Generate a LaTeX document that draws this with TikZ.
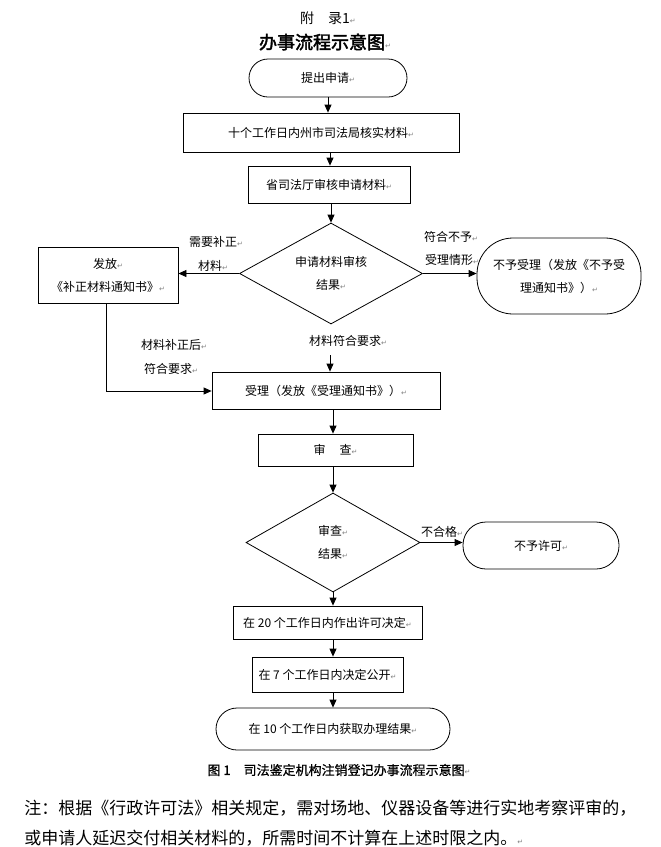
\documentclass[tikz,border=0pt]{standalone}
\usepackage{fontspec}
\setmainfont{Noto Sans CJK SC}
\newfontfamily\djv{DejaVu Sans}
\newfontfamily\titlecjk[FakeBold=2.2]{Noto Sans CJK SC}
\newfontfamily\capcjk[FakeBold=0.8]{Noto Sans CJK SC}
\usetikzlibrary{shapes.geometric,arrows.meta}
\newcommand\myfs[2][23]{\fontsize{#2}{#1}\selectfont}
\newcommand\pmk{{\djv\fontsize{7}{7}\selectfont\color{gray}\char"21B5}}
\begin{document}
\begin{tikzpicture}[x=1pt,y=-1pt,line width=0.8pt,
  every node/.style={inner sep=0pt,align=center,font=\myfs{12}},
  rect/.style={draw},
  stad/.style={draw,rounded corners=#1},
  dia/.style={draw,diamond,aspect=1.8},
  arr/.style={-{Triangle[length=8pt,width=7pt]}},
  lbl/.style={font=\myfs{12}}]
\path[use as bounding box,fill=white] (0,0) rectangle (661,847);

% titles
\node (t1) at (328,18) {\myfs{14}附\hspace{14pt}录1\pmk};
\node (t2) at (325,42) {\titlecjk\myfs{18}办事流程示意图\pmk};

% main nodes
\node[stad=19pt,minimum width=158pt,minimum height=38pt] (start) at (328,78) {提出申请\pmk};
\node[rect,minimum width=276pt,minimum height=39pt] (b1) at (321,132.5) {十个工作日内州市司法局核实材料\pmk};
\node[rect,minimum width=162pt,minimum height=37pt] (b2) at (329,184.5) {省司法厅审核申请材料\pmk};
\node[dia,minimum width=183pt,minimum height=101pt] (d1) at (331,273.5) {申请材料审核\\结果\pmk};
\node[rect,minimum width=140pt,minimum height=56pt] (lbox) at (108,275) {发放\pmk\\《补正材料通知书》\pmk};
\node[stad=36pt,minimum width=164pt,minimum height=76pt] (rstad) at (559,276) {不予受理（发放《不予受\\理通知书》）\pmk};
\node[rect,minimum width=228pt,minimum height=37pt] (accept) at (326,390.5) {受理（发放《受理通知书》）\pmk};
\node[rect,minimum width=155pt,minimum height=32pt] (review) at (335.5,450) {审\hspace{14pt}查\pmk};
\node[dia,minimum width=174pt,minimum height=99pt] (d2) at (333,542.5) {\myfs[25]{12}审查\pmk\\结果\pmk};
\node[stad=23pt,minimum width=156pt,minimum height=47pt] (deny) at (541,545.5) {不予许可\pmk};
\node[rect,minimum width=189pt,minimum height=33pt] (b20) at (327.5,622.5) {在 20 个工作日内作出许可决定\pmk};
\node[rect,minimum width=151pt,minimum height=35pt] (b7) at (327.5,674.5) {在 7 个工作日内决定公开\pmk};
\node[stad=21pt,minimum width=234pt,minimum height=42pt] (end) at (333,729) {在 10 个工作日内获取办理结果\pmk};

% labels
\node[lbl] (l1a) at (216,242) {需要补正\pmk};
\node[lbl] (l1b) at (213,266) {材料\pmk};
\node[lbl] (l2a) at (451,237) {符合不予\pmk};
\node[lbl] (l2b) at (452,260) {受理情形\pmk};
\node[lbl] (l3) at (348,341) {材料符合要求\pmk};
\node[lbl] (l4a) at (174,345) {材料补正后\pmk};
\node[lbl] (l4b) at (171,369) {符合要求\pmk};
\node[lbl] (l5) at (442,532) {不合格\pmk};

% connectors
\coordinate (c1) at (330,355);
\draw[arr] (start.south) -- (start.south |- b1.north);
\draw[arr] (b1.south -| 330,0) -- (330,0 |- b2.north);
\draw[arr] (b2.south -| d1.north) -- (d1.north);
\draw[arr] (d1.west) -- (d1.west -| lbox.east);
\draw[arr] (d1.east) -- (d1.east -| rstad.west);
\draw[arr] (c1) -- (c1 |- accept.north);
\draw (lbox.south -| 106,0) -- (106,391) coordinate (c2);
\draw[arr] (c2) -- (c2 -| accept.west);
\draw[arr] (accept.south -| 333,0) -- (333,0 |- review.north);
\draw[arr] (review.south -| d2.north) -- (d2.north);
\draw[arr] (d2.east) -- (d2.east -| deny.west);
\draw[arr] (d2.south) -- (d2.south |- b20.north);
\draw[arr] (b20.south -| 333,0) -- (333,0 |- b7.north);
\draw[arr] (b7.south -| 333,0) -- (333,0 |- end.north);

% caption and note
\node (cap) at (339,770) {\capcjk\myfs{13}图 1\hspace{13pt}司法鉴定机构注销登记办事流程示意图\pmk};
\node[anchor=west] (n1) at (24,808) {\myfs{17}注：根据《行政许可法》相关规定，需对场地、仪器设备等进行实地考察评审的，};
\node[anchor=west] (n2) at (24,838) {\myfs{17}或申请人延迟交付相关材料的，所需时间不计算在上述时限之内。\pmk};
\end{tikzpicture}
\end{document}
